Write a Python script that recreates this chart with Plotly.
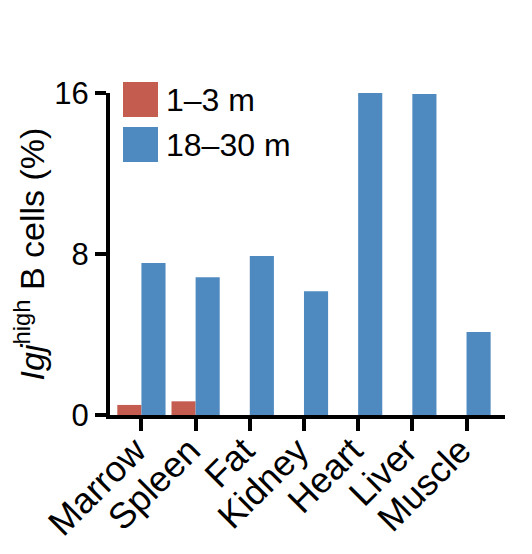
import plotly.graph_objects as go

categories = ["Marrow", "Spleen", "Fat", "Kidney", "Heart", "Liver", "Muscle"]
young_name = "1–3 m"
old_name = "18–30 m"
young_values = [0.5, 0.68, 0, 0, 0, 0, 0]
old_values = [7.55, 6.85, 7.9, 6.15, 16.0, 15.95, 4.13]
y_ticks = [0, 8, 16]

RED = "#C45C4F"
BLUE = "#4E89C0"
FONT = "Liberation Sans, Arial, sans-serif"

fig = go.Figure()
fig.add_trace(go.Bar(x=categories, y=young_values, name=young_name,
                     marker=dict(color=RED, line=dict(width=0)), showlegend=False))
fig.add_trace(go.Bar(x=categories, y=old_values, name=old_name,
                     marker=dict(color=BLUE, line=dict(width=0)), showlegend=False))

# page has an 8px body margin; figure sized to fit the 532x554 window
OFF = 8
W, H = 532 - OFF, 554 - OFF
L, R, T, B = 110 - OFF, 27, 93 - OFF, 139
pw, ph = W - L - R, H - T - B

def px_to_paper_x(px):
    return (px - OFF - L) / pw

def px_to_paper_y(py):
    return (H - B - (py - OFF)) / ph

legend_items = [(young_name, RED), (old_name, BLUE)]
for i, (name, col) in enumerate(legend_items):
    y0 = 82 + i * 45
    fig.add_shape(type="rect", xref="paper", yref="paper",
                  x0=px_to_paper_x(123), x1=px_to_paper_x(158),
                  y0=px_to_paper_y(y0 + 35), y1=px_to_paper_y(y0),
                  fillcolor=col, line=dict(width=0))
    fig.add_annotation(xref="paper", yref="paper", x=px_to_paper_x(164),
                       y=px_to_paper_y(y0 + 17.5), text=name, showarrow=False,
                       xanchor="left", yanchor="middle",
                       font=dict(family=FONT, size=32, color="black"))

fig.update_layout(
    width=W, height=H,
    margin=dict(l=L, r=R, t=T, b=B, autoexpand=False),
    paper_bgcolor="white", plot_bgcolor="white",
    barmode="group", bargap=0.11, bargroupgap=0,
    font=dict(family=FONT, size=30, color="black"),
    showlegend=False,
)
fig.update_xaxes(
    range=[-0.58, 6.71], showgrid=False, zeroline=False,
    showline=True, linecolor="black", linewidth=4,
    ticks="outside", ticklen=12, tickwidth=4, tickcolor="black",
    tickangle=-45, tickfont=dict(family=FONT, size=36),
    ticklabelstandoff=-16, ticklabelshift=-6,
)
fig.update_yaxes(
    range=[0, 16], showgrid=False, zeroline=False,
    showline=True, linecolor="black", linewidth=4,
    ticks="outside", ticklen=11, tickwidth=4, tickcolor="black",
    tickvals=y_ticks, ticktext=[str(v) for v in y_ticks],
    tickfont=dict(family=FONT, size=31),
    title=dict(text="<i>Igj</i><sup>high</sup> B cells (%)",
               font=dict(family=FONT, size=34), standoff=2),
)

fig.write_html("out.html")
